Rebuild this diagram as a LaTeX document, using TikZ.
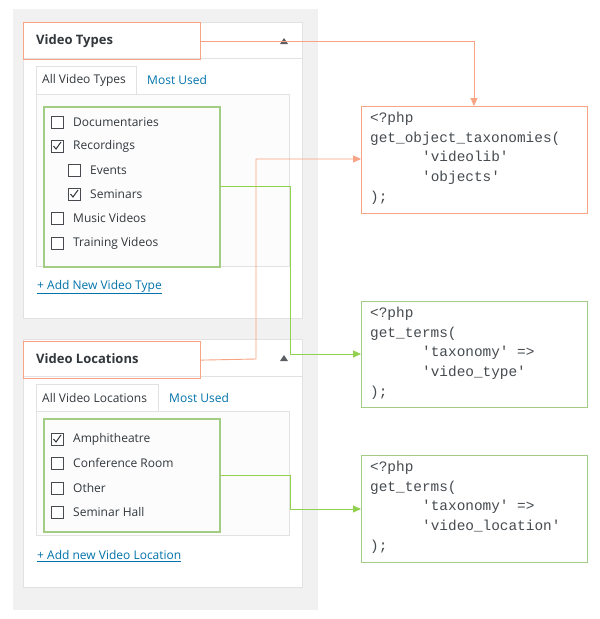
\documentclass[tikz,border=0pt]{standalone}
\usepackage{fontspec}
\setmainfont{Open Sans}
\setmonofont{Liberation Mono}
\usetikzlibrary{arrows.meta}
\definecolor{orng}{HTML}{F7A384}
\definecolor{grn}{HTML}{A3CC84}
\definecolor{grnl}{HTML}{92D050}
\definecolor{lnk}{HTML}{0073AA}
\definecolor{txt}{HTML}{32373C}
\definecolor{bgg}{HTML}{F1F1F1}
\definecolor{bord}{HTML}{E2E2E2}
\begin{document}
\begin{tikzpicture}[x=1pt,y=-1pt,
  lbl/.style={anchor=west,inner sep=0pt,text=txt,font=\fontsize{12}{14}\selectfont},
  hdr/.style={anchor=west,inner sep=0pt,text=txt,font=\fontsize{13}{15}\selectfont\bfseries},
  lnkst/.style={anchor=west,inner sep=0pt,text=lnk,font=\fontsize{12}{14}\selectfont},
  cb/.style={draw=txt!90,line width=0.8pt},
  code/.style={anchor=north west,align=left,inner sep=0pt,text=txt!90,font=\fontsize{14.4}{19.6}\selectfont\ttfamily},
  ob/.style={draw=orng,line width=1.2pt},
  gb/.style={draw=grn,line width=1.6pt},
  oa/.style={draw=orng,line width=0.9pt,-{Triangle[length=8pt,width=7pt]}},
  ga/.style={draw=grnl,line width=0.9pt,-{Triangle[length=8pt,width=7pt]}}]
\useasboundingbox (0,0) rectangle (600,619);
\fill[white] (0,0) rectangle (600,619);
\fill[bgg] (13,9) rectangle (318,610);
% panel 1
\draw[bord,fill=white] (23,22) rectangle (302,318);
\draw[bord] (23,58) -- (302,58);
\fill[txt!80] (280,44) -- (288,44) -- (284,38) -- cycle;
\draw[bord,fill=black!1] (36,94) rectangle (289,266);
\draw[bord,fill=white] (36,94) -- (36,66) -- (136,66) -- (136,94);
\node[lbl] at (42,80) {All Video Types};
\node[lnkst] at (147,80) {Most Used};
\foreach \y/\x/\t/\c in {122/51/Documentaries/0,146/51/Recordings/1,170/68/Events/0,194/68/Seminars/1,218/51/Music Videos/0,243/51/Training Videos/0}{
  \draw[cb,fill=white] (\x,\y-6) rectangle (\x+12,\y+6);
  \ifnum\c=1 \draw[txt,line width=1pt] (\x+2.5,\y) -- (\x+5,\y+3) -- (\x+10,\y-4);\fi
  \node[lbl] at (\x+22,\y) {\t};
}
\node[lnkst] at (37,287) {\underline{+ Add New Video Type}};
\node[ob,minimum width=177pt,minimum height=37pt,anchor=north west,inner sep=0pt] (vt) at (23,22) {};
\node[hdr] at (36,41) {Video Types};
\node[gb,minimum width=176pt,minimum height=160pt,anchor=north west,inner sep=0pt] (g1) at (43,106) {};
% panel 2
\draw[bord,fill=white] (23,339) rectangle (302,587);
\draw[bord] (23,376) -- (302,376);
\fill[txt!80] (280,361) -- (288,361) -- (284,355) -- cycle;
\draw[bord,fill=black!1] (36,411) rectangle (289,535);
\draw[bord,fill=white] (36,411) -- (36,384) -- (158,384) -- (158,411);
\node[lbl] at (42,398) {All Video Locations};
\node[lnkst] at (169,398) {Most Used};
\foreach \y/\x/\t/\c in {439/51/Amphitheatre/1,463/51/Conference Room/0,488/51/Other/0,512/51/Seminar Hall/0}{
  \draw[cb,fill=white] (\x,\y-6) rectangle (\x+12,\y+6);
  \ifnum\c=1 \draw[txt,line width=1pt] (\x+2.5,\y) -- (\x+5,\y+3) -- (\x+10,\y-4);\fi
  \node[lbl] at (\x+22,\y) {\t};
}
\node[lnkst] at (37,556) {\underline{+ Add new Video Location}};
\node[ob,minimum width=177pt,minimum height=37pt,anchor=north west,inner sep=0pt] (vl) at (23,341) {};
\node[hdr] at (36,359) {Video Locations};
\node[gb,minimum width=176pt,minimum height=113pt,anchor=north west,inner sep=0pt] (g2) at (43,418) {};
% code boxes
\node[ob,minimum width=226pt,minimum height=107pt,anchor=north west,inner sep=0pt] (c1) at (361,106) {};
\node[code] at (370,112) {<?php\\get\_object\_taxonomies(\\\hspace*{52pt}'videolib'\\\hspace*{52pt}'objects'\\);};
\node[gb,line width=1.2pt,minimum width=226pt,minimum height=106pt,anchor=north west,inner sep=0pt] (c2) at (361,301) {};
\node[code] at (370,307) {<?php\\get\_terms(\\\hspace*{52pt}'taxonomy' =>\\\hspace*{52pt}'video\_type'\\);};
\node[gb,line width=1.2pt,minimum width=226pt,minimum height=107pt,anchor=north west,inner sep=0pt] (c3) at (361,455) {};
\node[code] at (370,461) {<?php\\get\_terms(\\\hspace*{52pt}'taxonomy' =>\\\hspace*{52pt}'video\_location'\\);};
% connectors
\coordinate (e1) at (474,106);
\draw[oa] (vt.east) -| (c1.north -| e1);
\draw[oa] (vl.east) -- (256,359) |- (c1.west |- 0,159);
\draw[ga] (g1.east |- 0,186) -- (290,186) |- (c2.west |- 0,354);
\draw[ga] (g2.east |- 0,475) -- (290,475) |- (c3.west |- 0,509);
\end{tikzpicture}
\end{document}
